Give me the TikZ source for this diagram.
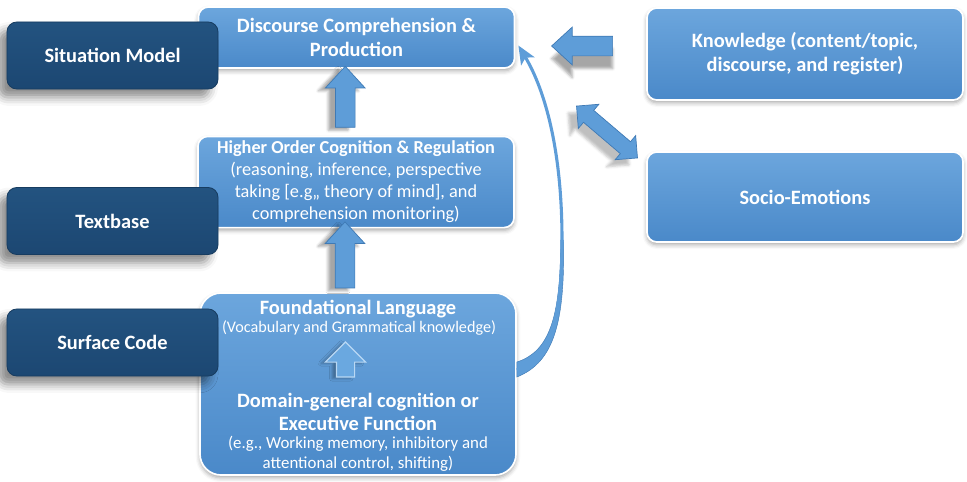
\documentclass[tikz,border=0pt]{standalone}
\usepackage{fontspec}
\setmainfont{Carlito}
\usetikzlibrary{calc,arrows.meta,shapes.arrows,shadows.blur}
\usepackage{xcolor}

\definecolor{boxtop}{HTML}{6CA6DD}
\definecolor{boxbot}{HTML}{4A89C9}
\definecolor{navytop}{HTML}{235380}
\definecolor{navybot}{HTML}{1C4772}
\definecolor{navyedge}{HTML}{173C60}
\definecolor{arrowfill}{HTML}{5E9DD8}
\definecolor{arrowedge}{HTML}{3F7AB5}
\definecolor{hollowfill}{HTML}{6AA8E0}
\definecolor{hollowedge}{HTML}{B9D8F4}

\newcommand{\bigbf}{\bfseries\fontsize{14.5}{17}\selectfont}
\newcommand{\midrm}{\mdseries\fontsize{13}{15.6}\selectfont}
\newcommand{\smallrm}{\mdseries\fontsize{12}{14.2}\selectfont}

\begin{document}
\begin{tikzpicture}[x=0.025cm,y=-0.025cm,
  lightbox/.style={draw=white, line width=1.2pt, rounded corners=7pt,
    top color=boxtop, bottom color=boxbot, text=white, align=center,
    minimum width=7.9cm,
    blur shadow={shadow xshift=0pt, shadow yshift=-2pt, shadow blur radius=3pt, shadow opacity=35}},
  navybox/.style={draw=navyedge, line width=0.6pt, rounded corners=7pt,
    top color=navytop, bottom color=navybot, text=white, font=\bigbf,
    minimum width=5.275cm, minimum height=1.675cm,
    blur shadow={shadow xshift=-6pt, shadow yshift=-6pt, shadow blur radius=6pt, shadow opacity=45}},
  blockarrow/.style={single arrow, draw=arrowedge, fill=arrowfill, line width=0.5pt,
    inner xsep=0pt, inner ysep=0.2375cm, single arrow head extend=0.25cm,
    single arrow tip angle=85},
  curvearrow/.style={draw=arrowfill, line width=2.2pt,
    -{Stealth[length=13pt, width=11pt, inset=3pt]}}
]
\useasboundingbox (0,0) rectangle (967,481);

% light boxes
\node[lightbox, minimum height=1.525cm, font=\bigbf] (disc) at (356.5,37.5)
  {Discourse Comprehension \&\\ Production};
\node[lightbox, minimum height=2.25cm, font=\midrm] (hoc) at (356,182)
  {\textbf{Higher Order Cognition \& Regulation}\\ (reasoning, inference, perspective\\
   taking [e.g,, theory of mind], and\\ comprehension monitoring)};
\node[lightbox, minimum height=4.55cm, rounded corners=15pt] (found) at (358,384) {};
\node[lightbox, minimum height=2.3cm, font=\bigbf] (know) at (805,54)
  {Knowledge (content/topic,\\ discourse, and register)};
\node[lightbox, minimum height=2.25cm, font=\bigbf] (socio) at (805,197) {Socio-Emotions};

% text inside the bottom box
\node[text=white, font=\bigbf] (fl) at ($(found.north)+(0,17)$) {Foundational Language};
\node[text=white, font=\mdseries\fontsize{11.5}{13.5}\selectfont] (voc)
  at ($(found.north)+(1,36)$) {(Vocabulary and Grammatical knowledge)};
\node[text=white, align=center, font=\bigbf] (dg) at ($(found.south)+(0,-64)$)
  {Domain-general cognition or\\ Executive Function};
\node[text=white, align=center, font=\smallrm] (eg) at ($(found.south)+(0,-22)$)
  {(e.g., Working memory, inhibitory and\\ attentional control, shifting)};

% levels on the left
\foreach \name/\y/\txt in {sit/55.5/Situation Model, tb/221/Textbase, sc/342.5/Surface Code}
{	\node[navybox] (\name) at (112.5,\y) {\txt};
}

% block arrows
\node[blockarrow, rotate=90, minimum height=1.525cm,
  blur shadow={shadow xshift=-5pt, shadow yshift=-2pt, shadow opacity=35}]
  (up1) at ($(hoc.north)!0.5!(disc.south)+(-11,0)$) {};
\node[blockarrow, rotate=90, minimum height=1.65cm,
  blur shadow={shadow xshift=-5pt, shadow yshift=-2pt, shadow opacity=35}]
  (up2) at ($(found.north)!0.5!(hoc.south)+(-12,0)$) {};
\node[blockarrow, rotate=90, minimum height=0.875cm, single arrow tip angle=90,
  fill=hollowfill, draw=hollowedge, line width=0.8pt, inner ysep=0.2125cm,
  single arrow head extend=0.275cm,
  blur shadow={shadow xshift=-3pt, shadow yshift=-1pt, shadow opacity=30}]
  (up3) at ($(voc.south)!0.5!(dg.north)+(-13,0)$) {};
\node[blockarrow, rotate=180, minimum height=1.525cm,
  single arrow head extend=0.225cm,
  blur shadow={shadow xshift=0pt, shadow yshift=-9pt, shadow opacity=35}]
  (left) at (587.5,46) {};
\node[double arrow, draw=arrowedge, fill=arrowfill, line width=0.5pt,
  inner xsep=0pt, inner ysep=0.1875cm,
  rotate=-40.4, minimum height=2cm, double arrow head extend=0.2cm,
  blur shadow={shadow xshift=-6pt, shadow yshift=-5pt, shadow opacity=25}]
  (both) at (607,132) {};

% curved feedback arrow, wider where it leaves the box
\fill[arrowfill, draw=arrowedge, line width=0.3pt] ($(found.east)+(0,-7)$)
  .. controls (555,362) and (565,320) .. (563.5,240) -- (560.5,240)
  .. controls (561,320) and (548,352) .. ($(found.east)+(0,-22)$) -- cycle;
\draw[curvearrow] ($(found.east)+(0,-14)$) .. controls (550,358) and (562,320) .. (562,240)
  .. controls (562,150) and (545,90) .. ($(disc.east)+(3,8)$);
\end{tikzpicture}
\end{document}
